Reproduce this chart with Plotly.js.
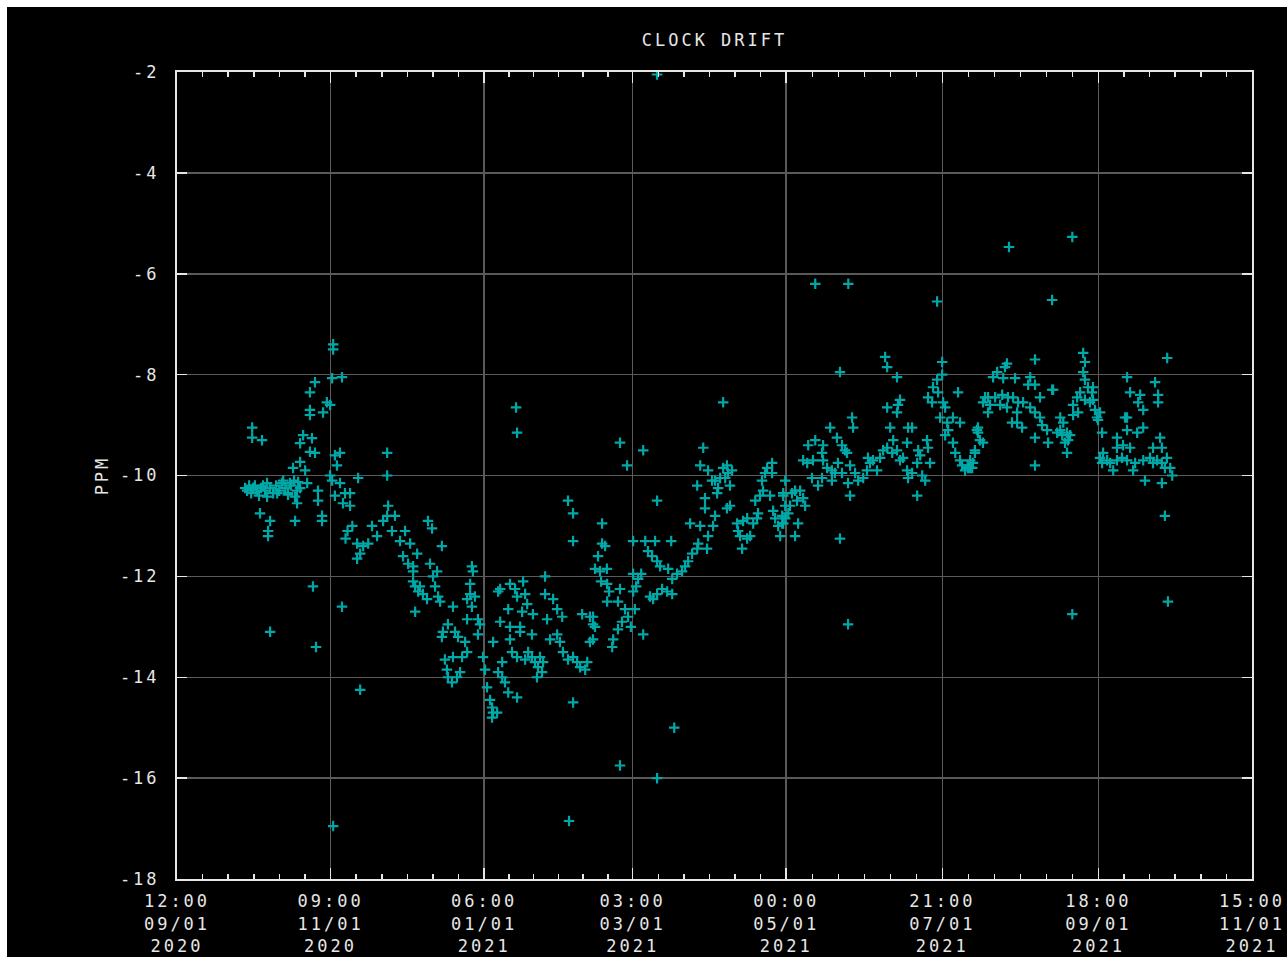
<!DOCTYPE html>
<html>
<head>
<meta charset="utf-8">
<script src="https://cdn.plot.ly/plotly-3.0.1.min.js"></script>
<style>
  html, body { margin: 0; padding: 0; background: #ffffff; overflow: hidden; }
  #chart { position: absolute; left: 7px; top: 7px; width: 1280px; height: 950px; background: #000; }
  .main-svg text { letter-spacing: 3px; }
</style>
</head>
<body>
<div id="chart"></div>
<script>
// x values: days since 2020-09-01 00:00 UTC ; y values: clock drift in PPM
const sepOctDays = [27.5,28.3,29.1,29.9,30.7,31.4,32.2,33.0,33.8,34.6,35.4,36.2,37.4,38.6,39.8,41.0,42.2,43.4,44.5,45.7,46.9,48.1,49.3,
  30.3,30.3,34.2,33.4,37.4,36.6,36.6,47.3,54.4,65.9,37.4,55.6,73.1,62.4,62.4,62.4,65.9,62.0,55.2,53.2,59.9,61.2,58.4,53.2,53.2,
  50.5,54.0,49.3,53.2,55.2,49.3,46.5,51.3,42.6,45.3,48.5,52.1,36.2,40.2,44.5,47.3,48.1,56.4,56.4,58.0,58.0,63.1,65.1,63.9,61.2,
  62.0,65.1,67.1,69.1,66.3,69.1,63.1,72.3,83.8,83.8];
const sepOctPpm = [-10.25,-10.3,-10.2,-10.35,-10.25,-10.2,-10.3,-10.4,-10.25,-10.2,-10.3,-10.15,-10.25,-10.35,-10.2,-10.3,-10.15,-10.25,-10.35,-10.2,-10.1,-10.3,-10.25,
  -9.05,-9.25,-9.3,-10.75,-10.9,-11.1,-11.2,-10.9,-12.2,-12.6,-13.1,-13.4,-14.25,-16.95,-7.4,-7.5,-8.05,-8.07,-8.15,-8.35,-8.55,-8.6,-8.75,-8.7,-8.8,
  -9.2,-9.26,-9.36,-9.53,-9.55,-9.73,-9.85,-9.9,-10.1,-10.15,-10.13,-10.15,-10.42,-10.35,-10.38,-10.42,-10.55,-10.3,-10.5,-10.8,-10.9,-9.6,-9.55,-9.8,-10.0,
  -10.1,-10.15,-10.35,-10.35,-10.55,-10.6,-10.4,-10.05,-9.55,-10.0];

const novDecDays = [70.0,68.1,67.3,71.9,74.3,71.9,73.1,76.3,77.8,79.8,82.2,84.2,83.8,86.9,85.7,88.9,90.9,92.9,90.1,92.1,94.1,94.1,94.9,96.1,94.9,
  100.0,101.6,105.5,95.7,94.1,100.8,103.6,96.8,98.0,99.6,102.0,102.8,104.0,104.8,109.9,117.4,117.8,116.7,116.7,118.6,115.5,117.4,
  107.9,105.9,110.7,111.9,105.5,115.5,119.8,120.6,119.8,114.7,115.5,113.5,106.7,109.9,107.9,109.5,111.5,112.7,107.5];
const novDecPpm = [-11.0,-11.1,-11.25,-11.35,-11.4,-11.65,-11.55,-11.35,-11.0,-11.2,-10.9,-10.6,-10.8,-10.8,-11.1,-11.3,-11.1,-11.35,-11.6,-11.75,-11.9,-12.1,-12.2,-12.3,-12.7,
  -10.9,-11.05,-11.4,-11.55,-11.8,-11.75,-11.9,-12.2,-12.35,-12.45,-12.0,-12.2,-12.4,-12.5,-12.6,-11.8,-11.9,-12.15,-12.35,-12.4,-12.45,-12.6,
  -12.95,-13.1,-13.1,-13.2,-13.2,-12.85,-12.85,-12.95,-13.15,-13.3,-13.5,-13.6,-13.65,-13.6,-14.0,-14.1,-14.0,-13.9,-13.85];

const janDays = [121.8,122.6,123.4,124.6,125.4,125.8,125.4,127.4,125.8,128.6,127.8,128.6,127.8,129.4,130.5,131.8,135.3,129.4,
  132.5,134.5,137.7,135.3,138.5,139.3,137.3,131.8,132.5,136.5,136.5,132.5,141.2,141.6,133.3,135.3,138.5,139.7,141.2,142.4,143.6,
  145.2,143.2,145.6,144.4,134.9,135.3];
const janPpm = [-13.6,-13.85,-14.2,-14.45,-14.6,-14.7,-14.8,-14.7,-13.3,-12.9,-12.3,-12.25,-13.9,-14.0,-14.1,-14.3,-14.4,-13.7,
  -12.15,-12.25,-12.1,-12.4,-12.35,-12.55,-12.7,-12.65,-13.0,-13.0,-13.1,-13.25,-13.15,-12.75,-13.5,-13.6,-13.65,-13.5,-13.6,-13.7,-13.8,
  -13.9,-14.0,-13.7,-13.6,-8.65,-9.15];

const febDays = [146.4,146.4,149.6,151.2,153.2,147.2,148.4,151.2,152.3,153.5,155.5,157.5,159.1,160.3,162.3,163.1,164.2,161.1,164.2,165.4,
  155.5,157.5,157.5,157.5,166.2,155.9,176.1,178.9,185.3,169.0,169.0,170.2,167.4,168.2,170.9,168.6,171.0,171.8,171.0,176.1,175.3,
  166.2,165.4,165.4,178.1,179.3,176.9,175.3,173.4,173.0,176.1];
const febPpm = [-12.0,-12.35,-12.45,-12.65,-12.8,-12.85,-13.25,-13.15,-13.3,-13.5,-13.65,-13.6,-13.7,-13.8,-13.85,-13.7,-13.3,-12.75,-12.8,-12.95,
  -10.5,-10.75,-11.3,-14.5,-11.85,-16.85,-9.35,-9.8,-9.5,-10.95,-11.35,-11.4,-11.6,-11.9,-11.85,-12.1,-12.15,-12.3,-12.5,-12.25,-12.5,
  -13.0,-13.25,-12.8,-12.65,-12.8,-12.9,-13.05,-13.25,-13.4,-15.75];

const marAprDays = [180.4,182.0,185.3,181.3,183.3,182.5,181.3,184.5,181.3,186.1,190.0,196.4,187.2,188.8,190.8,192.0,195.2,188.0,190.8,192.8,
  194.8,196.8,189.2,196.8,198.7,200.7,201.9,203.1,204.7,206.7,207.1,210.6,211.0,203.9,207.9,213.0,213.8,209.8,209.8,214.6,215.0,
  213.8,215.8,217.8,218.9,220.5,219.7,218.5,219.7,206.7,207.9,211.0,212.6,217.0,218.5,217.0,209.1,190.8,190.8,190.8,197.6,
  222.5,222.9,223.7,224.5,226.5,227.7,228.9,230.4,230.8,226.5,224.9,229.7,231.6,232.8,232.4,233.6,234.4,236.4,236.4,235.6,
  236.8,237.6,238.8,239.6,240.4,241.6,241.6,240.8];
const marAprPpm = [-13.0,-12.65,-13.15,-11.95,-12.05,-12.2,-12.3,-11.95,-11.3,-11.3,-11.3,-11.3,-11.5,-11.6,-11.7,-11.8,-11.85,-12.4,-12.35,-12.25,
  -12.3,-12.35,-12.45,-12.05,-11.95,-11.9,-11.8,-11.7,-11.55,-11.45,-11.35,-11.45,-11.2,-10.95,-11.0,-11.0,-10.8,-10.65,-10.45,-10.35,-10.25,
  -10.1,-10.05,-10.05,-9.95,-9.9,-10.2,-10.65,-10.6,-10.2,-9.8,-9.9,-10.1,-9.85,-9.8,-8.55,-9.45,-10.5,-2.05,-16.0,-15.0,
  -10.95,-11.1,-11.2,-11.45,-11.25,-11.2,-10.95,-10.85,-10.75,-10.85,-10.9,-10.5,-10.4,-10.3,-10.1,-9.95,-9.85,-9.75,-9.95,-10.4,
  -10.7,-10.85,-11.0,-11.2,-10.95,-10.85,-10.1,-10.4];

const mayJunDays = [253.5,266.6,263.3,281.2,282.0,285.9,282.0,286.3,287.1,285.9,268.1,268.5,259.4,253.5,256.6,250.7,262.1,264.1,265.3,266.1,
  256.2,248.7,250.3,252.6,256.6,258.2,260.1,262.5,267.3,264.1,252.2,256.2,254.6,260.1,261.3,266.5,267.3,263.3,247.5,245.5,244.3,
  246.3,248.7,249.5,240.8,241.6,243.5,242.8,240.4,240.8,246.7,245.5,269.3,270.5,272.5,274.0,275.2,276.4,278.0,274.4,279.2,280.4,
  282.0,283.2,284.4,284.0,285.9,288.3,287.1,289.9,290.3,291.9,289.9,290.3,291.9,293.9,295.1,294.3,295.9,297.1,293.9,299.0,297.8,
  298.2,266.5];
const mayJunPpm = [-6.2,-6.2,-7.95,-7.65,-7.85,-8.05,-8.65,-8.6,-8.5,-8.75,-8.85,-9.05,-9.05,-9.3,-9.4,-9.4,-9.25,-9.4,-9.5,-9.55,
  -9.55,-9.7,-9.75,-9.7,-9.7,-9.85,-9.9,-9.75,-9.8,-9.95,-10.05,-10.05,-10.2,-10.1,-9.95,-10.15,-10.4,-11.25,-10.3,-10.3,-10.35,
  -10.5,-10.45,-10.6,-10.35,-10.6,-10.6,-10.75,-10.8,-10.95,-10.95,-11.2,-9.95,-10.1,-10.05,-9.9,-9.75,-9.7,-9.9,-9.65,-9.65,-9.5,
  -9.45,-9.05,-9.3,-9.55,-9.5,-9.65,-9.7,-9.35,-9.05,-9.05,-9.9,-10.05,-9.95,-9.75,-9.6,-9.5,-10.0,-10.1,-10.4,-9.75,-9.3,
  -9.45,-12.95];

const julDays = [301.8,298.2,299.8,300.2,301.8,303.8,303.8,302.2,304.2,305.0,303.0,305.8,306.2,305.0,308.1,310.9,310.1,308.1,309.0,310.9,
  313.9,314.9,315.7,316.8,317.6,318.8,320.0,311.7,312.9,314.1,318.0,318.0,316.8,316.0,314.9,320.8,320.0,322.0,322.0,322.8,324.8,
  324.0,325.6,326.8,327.6,328.0,328.7,329.5,329.5,329.9,330.3];
const julPpm = [-6.55,-8.45,-8.55,-8.25,-8.1,-7.75,-8.0,-8.35,-8.55,-8.65,-8.85,-8.95,-9.1,-9.2,-8.85,-8.95,-8.35,-9.35,-9.55,-9.7,
  -9.8,-9.85,-9.85,-9.55,-9.1,-9.3,-9.35,-9.8,-9.9,-9.85,-9.05,-9.15,-9.5,-9.75,-9.7,-8.45,-8.55,-8.45,-8.75,-8.6,-8.45,
  -8.05,-7.95,-8.6,-8.4,-8.07,-7.85,-7.78,-8.65,-8.45,-5.47];

const augSepDays = [331.5,331.9,332.7,333.5,333.5,333.9,335.5,335.9,337.9,338.7,338.7,340.6,340.6,340.6,340.6,340.6,342.6,342.6,343.4,345.4,
  345.8,347.4,347.8,347.4,349.4,350.6,350.6,351.4,351.8,352.5,353.3,353.3,353.7,354.5,355.4,355.4,355.7,355.7,357.3,357.7,358.5,
  359.7,359.7,360.4,360.4,360.4,361.6,362.4,363.2,363.6,363.6,364.4,365.2,365.6,366.4,366.4,367.2,367.2,367.6,369.2,370.4,371.6,
  373.1,373.1,373.1,375.1,375.5,376.3,377.1,377.1,377.1,377.1,378.3,378.3,379.5,380.3,381.1,381.5,382.3,383.5,383.5,383.5,384.2,
  386.2,387.4,387.4,388.2,389.0,389.4,389.4,390.2,390.9,390.9,390.9,392.1,392.1,392.9,393.0,393.3,394.2,395.0];
const augSepPpm = [-8.95,-8.45,-8.07,-8.75,-8.95,-8.55,-9.05,-8.55,-8.2,-8.05,-8.65,-7.7,-8.2,-8.75,-9.25,-9.8,-8.85,-8.45,-9.0,-9.1,
  -9.35,-8.3,-8.3,-6.52,-9.15,-8.85,-9.1,-9.2,-8.95,-9.35,-9.15,-9.55,-9.3,-9.2,-5.27,-12.75,-8.6,-8.8,-8.45,-8.75,-8.35,
  -7.57,-7.95,-7.75,-8.1,-8.5,-8.25,-8.55,-8.35,-8.25,-8.5,-8.7,-8.85,-8.9,-8.75,-9.65,-9.15,-9.75,-9.55,-9.7,-9.75,-9.9,
  -9.25,-9.45,-9.7,-9.65,-9.4,-8.85,-8.05,-8.85,-9.1,-9.7,-8.35,-9.45,-9.9,-9.75,-9.15,-8.55,-8.4,-8.7,-9.05,-9.7,-10.1,
  -9.65,-9.45,-9.75,-8.15,-9.7,-8.4,-8.55,-9.25,-9.45,-9.75,-10.15,-9.85,-10.8,-9.65,-7.67,-12.5,-9.85,-10.0];

// axis ticks (UTC)
const xTickDates = ['2020-09-01T12:00:00Z','2020-11-01T09:00:00Z','2021-01-01T06:00:00Z','2021-03-01T03:00:00Z',
  '2021-05-01T00:00:00Z','2021-07-01T21:00:00Z','2021-09-01T18:00:00Z','2021-11-01T15:00:00Z'];
const xTickLabels = ['12:00<br>09/01<br>2020','09:00<br>11/01<br>2020','06:00<br>01/01<br>2021','03:00<br>03/01<br>2021',
  '00:00<br>05/01<br>2021','21:00<br>07/01<br>2021','18:00<br>09/01<br>2021','15:00<br>11/01<br>2021'];
const yTickVals = [-18,-16,-14,-12,-10,-8,-6,-4,-2];
const yTickLabels = ['-18','-16','-14','-12','-10','-8','-6','-4','-2'];

function fmt(ms) { return new Date(ms).toISOString().replace('T', ' ').slice(0, 19); }
const baseMs = Date.UTC(2020, 8, 1);

const allDays = [].concat(sepOctDays, novDecDays, janDays, febDays, marAprDays, mayJunDays, julDays, augSepDays);
const allPpm = [].concat(sepOctPpm, novDecPpm, janPpm, febPpm, marAprPpm, mayJunPpm, julPpm, augSepPpm);
const xs = allDays.map(d => fmt(baseMs + d * 86400000));

const tickMs = xTickDates.map(s => Date.parse(s));
const tickVals = tickMs.map(fmt);
const minorVals = [];
for (let i = 0; i < tickMs.length - 1; i++) {
  for (let k = 1; k < 6; k++) minorVals.push(fmt(tickMs[i] + k * (tickMs[i + 1] - tickMs[i]) / 6));
}

const fg = '#e6e6e6';
const trace = {
  type: 'scatter', mode: 'markers', x: xs, y: allPpm,
  marker: { symbol: 'cross-thin', size: 7.5, color: '#00a8a8', line: { color: '#00a8a8', width: 2.2 } },
  hoverinfo: 'skip'
};

const layout = {
  width: 1280, height: 950,
  paper_bgcolor: '#000000', plot_bgcolor: '#000000',
  margin: { l: 170, r: 35, t: 65, b: 78, pad: 0 },
  showlegend: false,
  font: { family: 'DejaVu Sans Mono, monospace', size: 17, color: fg },
  title: { text: 'CLOCK DRIFT', x: 0.5, xref: 'paper', xanchor: 'center', y: 1 - 33 / 950, yref: 'container', yanchor: 'middle',
           font: { family: 'DejaVu Sans Mono, monospace', size: 17, color: fg } },
  xaxis: {
    type: 'date', range: [tickVals[0], tickVals[tickVals.length - 1]], autorange: false,
    tickmode: 'array', tickvals: tickVals, ticktext: xTickLabels,
    ticks: 'inside', ticklen: 11, tickwidth: 1.5, tickcolor: fg,
    showline: true, linecolor: fg, linewidth: 2, mirror: 'ticks',
    showgrid: true, gridcolor: '#5a5a5a', gridwidth: 1.5, zeroline: false,
    minor: { tickmode: 'array', tickvals: minorVals, ticks: 'inside', ticklen: 5, tickwidth: 1.5, tickcolor: fg, showgrid: false },
    ticklabelstandoff: 6, automargin: false, fixedrange: true
  },
  yaxis: {
    range: [-18, -2], autorange: false,
    tickmode: 'array', tickvals: yTickVals, ticktext: yTickLabels,
    ticks: 'inside', ticklen: 10, tickwidth: 1.5, tickcolor: fg,
    showline: true, linecolor: fg, linewidth: 2, mirror: 'ticks',
    showgrid: true, gridcolor: '#5a5a5a', gridwidth: 1.5, zeroline: false,
    ticklabelstandoff: 12, automargin: false, fixedrange: true,
    title: { text: 'PPM', standoff: 16, font: { family: 'DejaVu Sans Mono, monospace', size: 17, color: fg } }
  }
};

Plotly.newPlot('chart', [trace], layout, { displayModeBar: false, staticPlot: true });
</script>
</body>
</html>
